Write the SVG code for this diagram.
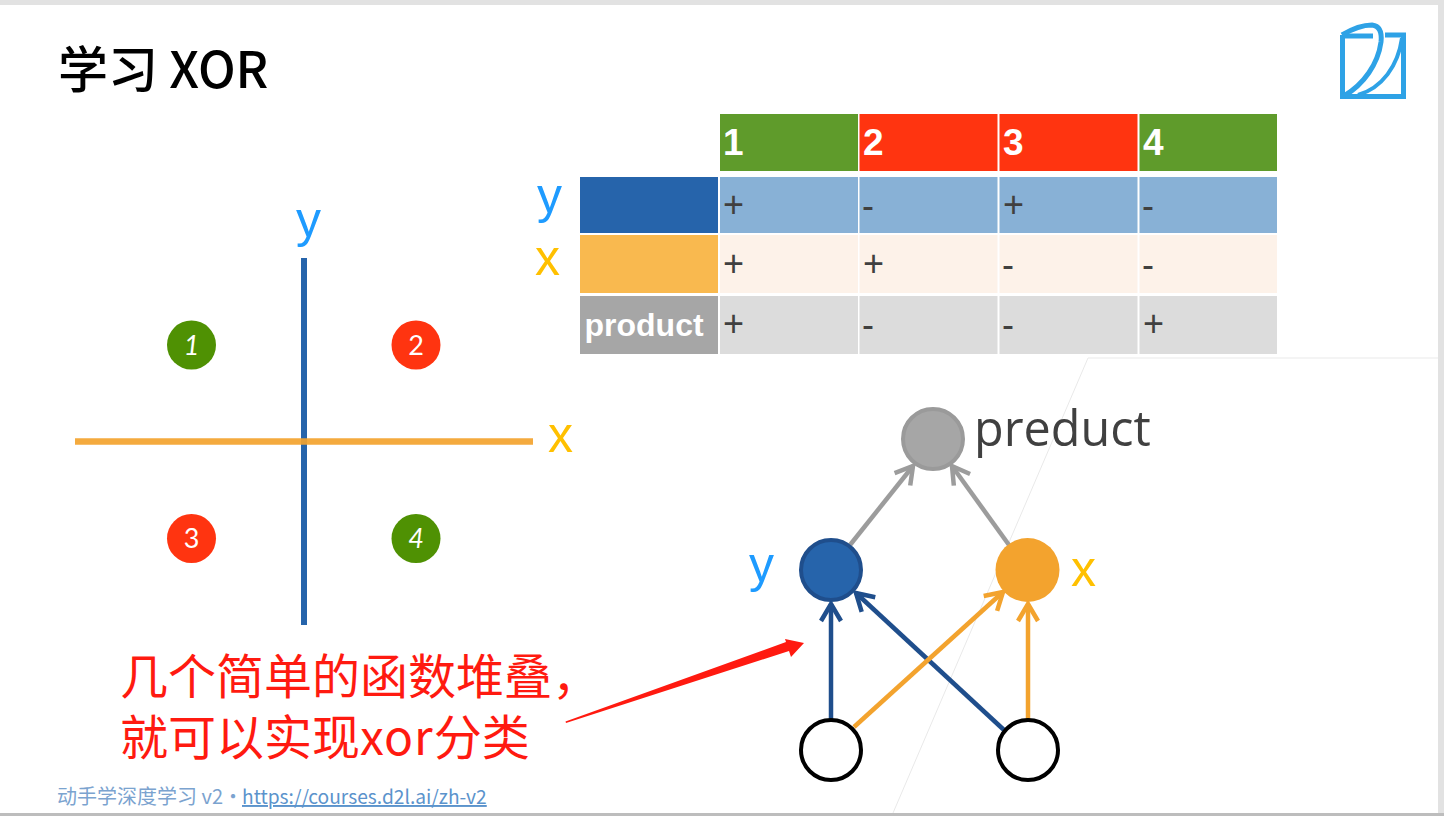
<svg xmlns="http://www.w3.org/2000/svg" width="1444" height="816" viewBox="0 0 1444 816">
<style>
text{font-family:"Noto Sans CJK SC","Noto Sans",sans-serif}
.t{font-family:"Liberation Sans",Arial,sans-serif}
.h{font-weight:700;font-size:37px;fill:#fff}
.c{font-size:36px;fill:#404040}
.q{font-family:"Lato","Noto Sans",sans-serif;font-size:27px;fill:#fff;text-anchor:middle}
.r{font-size:48px;fill:#ff1a10}
.lb{fill:#1e9bff}.lo{fill:#ffc000}
.l{fill:none;stroke-width:4.5px}
.blue{stroke:#1f4e8c}.or{stroke:#f3a32e}.gr{stroke:#9c9c9c}
</style>
<defs>
<marker id="ab" markerUnits="userSpaceOnUse" markerWidth="30" markerHeight="30" refX="22" refY="12" orient="auto" overflow="visible"><path d="M5 2L22 12L5 22" fill="none" stroke="#1f4e8c" stroke-width="4.5"/></marker>
<marker id="ao" markerUnits="userSpaceOnUse" markerWidth="30" markerHeight="30" refX="22" refY="12" orient="auto" overflow="visible"><path d="M5 2L22 12L5 22" fill="none" stroke="#f3a32e" stroke-width="4.5"/></marker>
<marker id="ag" markerUnits="userSpaceOnUse" markerWidth="30" markerHeight="30" refX="22" refY="12" orient="auto" overflow="visible"><path d="M5 2L22 12L5 22" fill="none" stroke="#9c9c9c" stroke-width="4.5"/></marker>
</defs>
<rect width="1444" height="816" fill="#e2e2e2"/>
<rect x="0" y="5" width="1438" height="808" fill="#fff"/>
<rect x="0" y="813" width="1444" height="3" fill="#bdbdbd"/>
<path d="M1438 358H1088L893 813" fill="none" stroke="#e9e9e9" stroke-width="1"/>
<text x="58" y="88" font-size="50" font-weight="500" fill="#000">学习 XOR</text>
<g id="logo" fill="none" stroke="#2ea2e6" stroke-width="5">
<path d="M1342.500 35V96.500H1403.500V35H1385"/>
<path d="M1343 36H1373"/>
<path d="M1342 35C1352 29 1364 25 1372 25C1380 26 1382 33 1381 42C1378 64 1364 84 1344 96"/>
<path d="M1402 38C1398 66 1382 88 1358 95" stroke-width="4"/>
</g>
<g id="table">
<rect x="720" y="114" width="138" height="57" fill="#5f9b2b"/>
<rect x="859.500" y="114" width="138" height="57" fill="#ff3410"/>
<rect x="999.500" y="114" width="138" height="57" fill="#ff3410"/>
<rect x="1139.500" y="114" width="137.500" height="57" fill="#5f9b2b"/>
<rect x="580" y="177" width="138" height="56" fill="#2664ab"/>
<rect x="720" y="177" width="138" height="56" fill="#88b1d6"/>
<rect x="859.500" y="177" width="138" height="56" fill="#88b1d6"/>
<rect x="999.500" y="177" width="138" height="56" fill="#88b1d6"/>
<rect x="1139.500" y="177" width="137.500" height="56" fill="#88b1d6"/>
<rect x="580" y="235" width="138" height="58" fill="#f9b94f"/>
<rect x="720" y="235" width="138" height="58" fill="#fdf2e9"/>
<rect x="859.500" y="235" width="138" height="58" fill="#fdf2e9"/>
<rect x="999.500" y="235" width="138" height="58" fill="#fdf2e9"/>
<rect x="1139.500" y="235" width="137.500" height="58" fill="#fdf2e9"/>
<rect x="580" y="296" width="138" height="58" fill="#a6a6a6"/>
<rect x="720" y="296" width="138" height="58" fill="#dcdcdc"/>
<rect x="859.500" y="296" width="138" height="58" fill="#dcdcdc"/>
<rect x="999.500" y="296" width="138" height="58" fill="#dcdcdc"/>
<rect x="1139.500" y="296" width="137.500" height="58" fill="#dcdcdc"/>
<text class="t h" x="723" y="155">1</text>
<text class="t h" x="863" y="155">2</text>
<text class="t h" x="1003" y="155">3</text>
<text class="t h" x="1143" y="155">4</text>
<text class="t c" x="723" y="217">+</text><text class="t c" x="862" y="218">-</text><text class="t c" x="1003" y="217">+</text><text class="t c" x="1142" y="218">-</text>
<text class="t c" x="723" y="276">+</text><text class="t c" x="863" y="276">+</text><text class="t c" x="1002" y="277">-</text><text class="t c" x="1142" y="277">-</text>
<text class="t c" x="723" y="336">+</text><text class="t c" x="862" y="337">-</text><text class="t c" x="1002" y="337">-</text><text class="t c" x="1143" y="336">+</text>
<text class="t" x="584.500" y="336" font-size="32" font-weight="700" fill="#fff">product</text>
<text class="t lb" x="537" y="213" font-size="50">y</text>
<text class="t lo" x="535" y="275" font-size="50">x</text>
</g>
<g id="axes">
<line x1="304" y1="258" x2="304" y2="625" stroke="#2664ab" stroke-width="6"/>
<line x1="75" y1="441.500" x2="533" y2="441.500" stroke="#f3a32e" stroke-width="6.400" stroke-opacity=".92"/>
<text class="t lb" x="296" y="237" font-size="50">y</text>
<text class="t lo" x="548" y="452" font-size="50">x</text>
</g>
<g id="q1"><circle cx="191.500" cy="345" r="24.500" fill="#4f9103"/><text class="q" x="191.500" y="355" font-style="italic">1</text></g>
<g id="q2"><circle cx="416" cy="345" r="24.500" fill="#ff3410"/><text class="q" x="416" y="355">2</text></g>
<g id="q3"><circle cx="191.500" cy="538.500" r="24.500" fill="#ff3410"/><text class="q" x="191.500" y="548">3</text></g>
<g id="q4"><circle cx="416" cy="538.500" r="24.500" fill="#4f9103"/><text class="q" x="416" y="548" font-style="italic">4</text></g>
<g id="connectors">
<path class="l blue" d="M831 719V604" marker-end="url(#ab)"/>
<path class="l blue" d="M1004 730L856 593" marker-end="url(#ab)"/>
<path class="l or" d="M854 727L1003 592" marker-end="url(#ao)"/>
<path class="l or" d="M1028 719V604" marker-end="url(#ao)"/>
<path class="l gr" d="M850 545L913 466" marker-end="url(#ag)"/>
<path class="l gr" d="M1009 545L952 466" marker-end="url(#ag)"/>
<path d="M565.500 721.500L786 642L785 639L804 643L791 657L789 651L566 723Z" fill="#ff1a10"/>
</g>
<g id="product"><circle cx="933" cy="439" r="30" fill="#a6a6a6" stroke="#9a9a9a" stroke-width="4"/><text x="974" y="446" font-size="48.500" fill="#404040" style="font-family:'Open Sans','Noto Sans',sans-serif">preduct</text></g>
<g id="ny"><circle cx="831" cy="570" r="30" fill="#2664ab" stroke="#1f4e8c" stroke-width="4"/><text class="t lb" x="749" y="582" font-size="50">y</text></g>
<g id="nx"><circle cx="1027.500" cy="570" r="32" fill="#f3a32e"/><text class="t lo" x="1071" y="586" font-size="50">x</text></g>
<g id="in1"><circle cx="831" cy="750" r="30" fill="#fff" stroke="#000" stroke-width="4"/></g>
<g id="in2"><circle cx="1028" cy="750" r="30" fill="#fff" stroke="#000" stroke-width="4"/></g>
<text class="r"><tspan x="120" y="694">几个简单的函数堆叠，</tspan><tspan x="120" y="755">就可以实现<tspan letter-spacing="1">xor</tspan>分类</tspan></text>
<text x="57" y="804" font-size="20" fill="#7ba3cf">动手学深度学习 v2・</text>
<text x="242" y="804" font-size="19.200" fill="#5b93cc" text-decoration="underline">https://courses.d2l.ai/zh-v2</text>
</svg>
